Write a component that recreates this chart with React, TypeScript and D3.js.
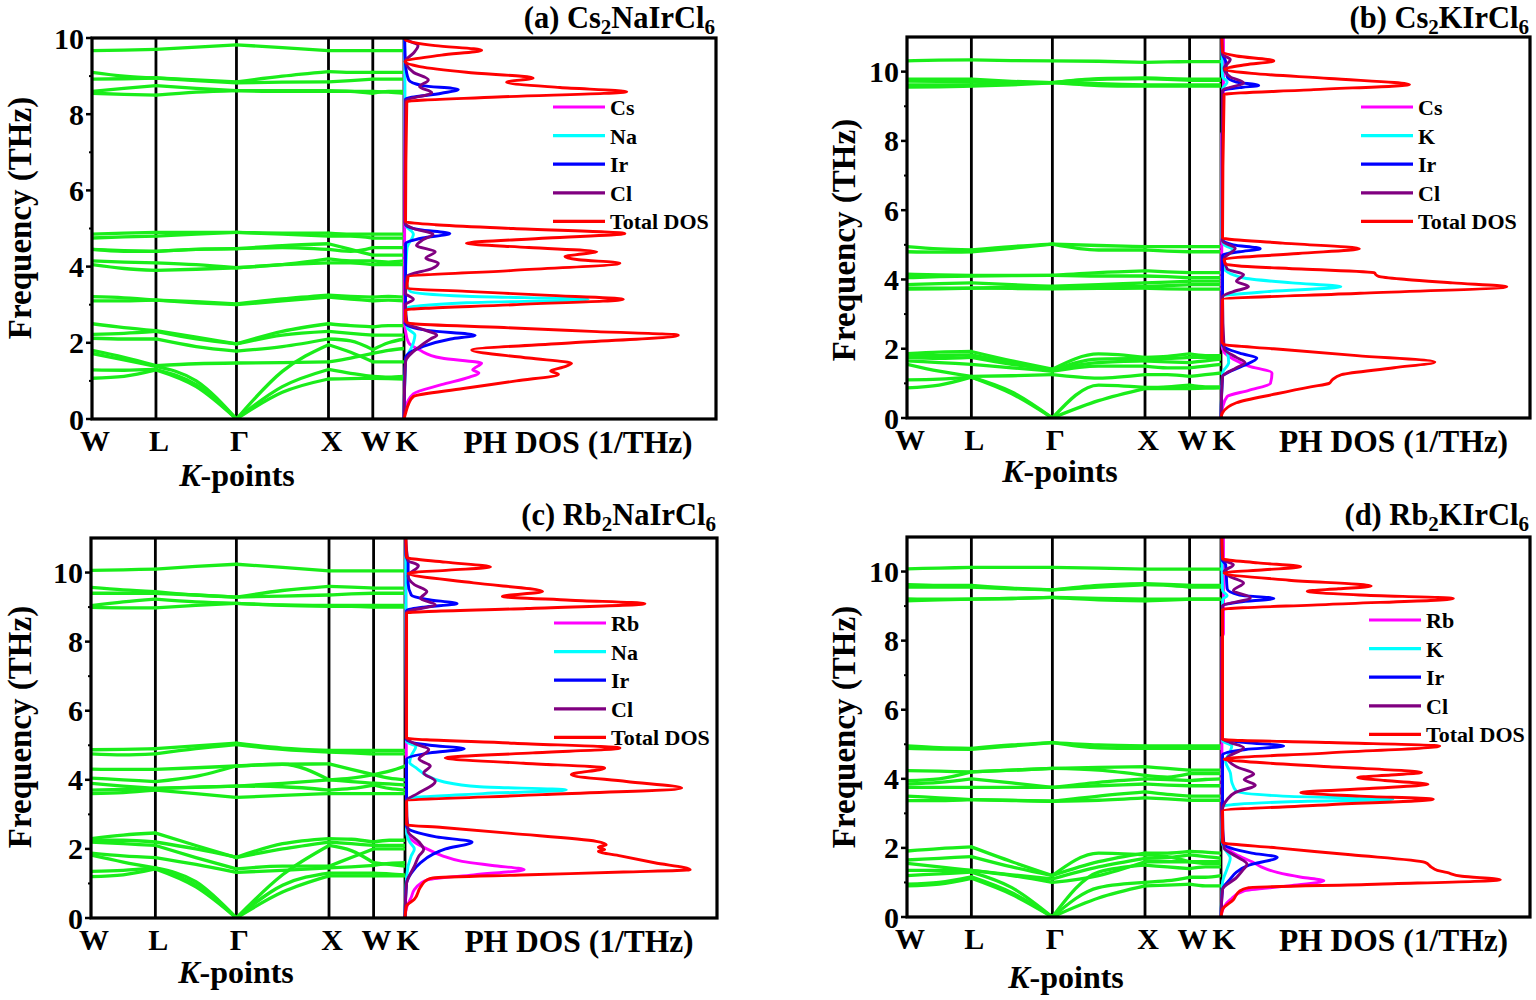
import * as d3 from 'd3';

type Pt = [number, number];

// k-path: high-symmetry nodes (fraction of band width) and their labels
const kNodes = [0, 0.205, 0.463, 0.758, 0.9, 1.0];
const kLabels = ['W', 'L', 'Γ', 'X', 'W', 'K'];
// sample positions along the path: node, mid, node, mid ...
const kSamples = [0, 0.1025, 0.205, 0.334, 0.463, 0.61, 0.758, 0.829, 0.9, 0.95, 1.0];
const majorTicks = [0, 2, 4, 6, 8, 10];
const minorTicks = [1, 3, 5, 7, 9];

// phonon branches, frequency (THz) at each kSample
const bandsA = [
  [1.07, 1.12, 1.29, 0.85, 0, 0.7, 1.05, 1.06, 1.07, 1.06, 1.05],
  [1.29, 1.28, 1.3, 0.9, 0, 0.85, 1.3, 1.2, 1.12, 1.1, 1.12],
  [1.72, 1.55, 1.38, 1.0, 0, 1.25, 1.95, 1.75, 1.5, 1.5, 1.5],
  [1.8, 1.62, 1.4, 1.45, 1.47, 1.48, 1.5, 1.6, 1.72, 1.8, 1.85],
  [2.12, 2.1, 2.1, 1.9, 1.78, 1.9, 2.1, 2.05, 1.82, 2.0, 2.1],
  [2.22, 2.25, 2.3, 2.1, 1.97, 2.2, 2.3, 2.25, 2.2, 2.2, 2.2],
  [2.5, 2.4, 2.32, 2.15, 1.97, 2.3, 2.5, 2.45, 2.42, 2.45, 2.45],
  [3.1, 3.1, 3.12, 3.05, 3.0, 3.1, 3.2, 3.15, 3.1, 3.12, 3.1],
  [3.21, 3.18, 3.12, 3.08, 3.02, 3.15, 3.25, 3.22, 3.2, 3.22, 3.2],
  [4.05, 3.95, 3.9, 3.93, 3.97, 4.05, 4.1, 4.1, 4.05, 4.05, 4.05],
  [4.15, 4.12, 4.1, 4.05, 3.97, 4.05, 4.2, 4.15, 4.15, 4.12, 4.15],
  [4.45, 4.42, 4.4, 4.45, 4.47, 4.55, 4.6, 4.45, 4.3, 4.3, 4.3],
  [4.45, 4.4, 4.4, 4.45, 4.47, 4.5, 4.45, 4.4, 4.5, 4.5, 4.5],
  [4.75, 4.78, 4.8, 4.85, 4.9, 4.85, 4.8, 4.8, 4.75, 4.75, 4.75],
  [4.85, 4.88, 4.9, 4.9, 4.9, 4.88, 4.88, 4.85, 4.85, 4.85, 4.85],
  [8.55, 8.52, 8.5, 8.58, 8.62, 8.6, 8.6, 8.6, 8.6, 8.58, 8.55],
  [8.6, 8.68, 8.75, 8.68, 8.62, 8.62, 8.62, 8.6, 8.55, 8.6, 8.6],
  [8.92, 8.93, 8.95, 8.88, 8.82, 8.84, 8.85, 8.88, 8.92, 8.92, 8.92],
  [9.1, 9.0, 8.95, 8.9, 8.85, 9.0, 9.12, 9.1, 9.1, 9.1, 9.1],
  [9.67, 9.68, 9.7, 9.76, 9.82, 9.75, 9.67, 9.67, 9.67, 9.67, 9.67],
];

const bandsB = [
  [0.87, 0.95, 1.18, 0.7, 0, 0.5, 0.85, 0.85, 0.85, 0.86, 0.87],
  [1.1, 1.12, 1.18, 0.75, 0, 0.95, 0.88, 0.9, 0.95, 0.9, 0.9],
  [1.55, 1.35, 1.2, 1.22, 1.25, 1.15, 1.25, 1.25, 1.2, 1.25, 1.3],
  [1.65, 1.6, 1.55, 1.45, 1.35, 1.5, 1.5, 1.45, 1.45, 1.5, 1.55],
  [1.75, 1.72, 1.75, 1.55, 1.4, 1.6, 1.65, 1.62, 1.6, 1.65, 1.7],
  [1.86, 1.9, 1.92, 1.65, 1.41, 1.85, 1.75, 1.78, 1.85, 1.8, 1.8],
  [1.8, 1.8, 1.82, 1.6, 1.38, 1.7, 1.72, 1.72, 1.75, 1.75, 1.75],
  [3.72, 3.73, 3.75, 3.74, 3.73, 3.74, 3.75, 3.73, 3.72, 3.72, 3.72],
  [3.75, 3.75, 3.75, 3.78, 3.8, 3.8, 3.8, 3.82, 3.85, 3.85, 3.85],
  [3.85, 3.88, 3.9, 3.85, 3.8, 3.85, 3.9, 3.92, 3.95, 3.95, 3.95],
  [4.05, 4.08, 4.1, 4.11, 4.12, 4.1, 4.1, 4.08, 4.05, 4.05, 4.05],
  [4.15, 4.13, 4.12, 4.12, 4.12, 4.2, 4.25, 4.22, 4.2, 4.2, 4.2],
  [4.8, 4.79, 4.8, 4.9, 5.02, 4.85, 4.85, 4.82, 4.8, 4.8, 4.8],
  [4.95, 4.88, 4.85, 4.95, 5.02, 4.98, 4.95, 4.95, 4.95, 4.95, 4.95],
  [9.55, 9.56, 9.58, 9.62, 9.68, 9.6, 9.58, 9.58, 9.58, 9.58, 9.58],
  [9.62, 9.62, 9.62, 9.65, 9.68, 9.65, 9.62, 9.62, 9.62, 9.62, 9.62],
  [9.73, 9.72, 9.7, 9.69, 9.68, 9.78, 9.8, 9.78, 9.75, 9.75, 9.75],
  [9.78, 9.78, 9.78, 9.72, 9.68, 9.8, 9.82, 9.8, 9.78, 9.78, 9.78],
  [10.31, 10.33, 10.34, 10.32, 10.31, 10.3, 10.27, 10.28, 10.29, 10.29, 10.29],
];

const bandsC = [
  [1.2, 1.25, 1.42, 0.9, 0, 0.75, 1.22, 1.22, 1.22, 1.22, 1.22],
  [1.35, 1.38, 1.45, 0.95, 0, 0.95, 1.3, 1.3, 1.3, 1.28, 1.25],
  [1.82, 1.62, 1.45, 1.05, 0, 1.25, 2.1, 1.95, 1.6, 1.55, 1.5],
  [1.88, 1.8, 1.75, 1.55, 1.32, 1.38, 1.45, 1.48, 1.52, 1.58, 1.6],
  [2.2, 2.15, 2.1, 1.75, 1.42, 1.5, 1.5, 1.75, 2.0, 2.0, 2.0],
  [2.3, 2.4, 2.46, 2.1, 1.75, 2.0, 2.2, 2.15, 2.1, 2.1, 2.1],
  [2.25, 2.25, 2.2, 2.0, 1.76, 2.15, 2.3, 2.28, 2.2, 2.25, 2.25],
  [3.6, 3.63, 3.7, 3.6, 3.49, 3.55, 3.6, 3.6, 3.6, 3.6, 3.6],
  [3.7, 3.72, 3.75, 3.78, 3.82, 3.8, 3.7, 3.75, 3.85, 3.75, 3.7],
  [3.9, 3.82, 3.75, 3.79, 3.82, 3.9, 4.0, 3.95, 3.9, 3.88, 3.85],
  [4.05, 4.0, 3.95, 4.1, 4.4, 4.45, 4.0, 4.05, 4.15, 4.05, 4.0],
  [4.31, 4.3, 4.3, 4.35, 4.4, 4.45, 4.46, 4.3, 4.15, 4.25, 4.4],
  [4.75, 4.72, 4.75, 4.9, 5.02, 4.88, 4.8, 4.78, 4.75, 4.75, 4.75],
  [4.87, 4.88, 4.9, 4.98, 5.06, 4.92, 4.85, 4.85, 4.85, 4.85, 4.85],
  [8.99, 8.98, 8.98, 9.05, 9.11, 9.05, 9.02, 9.02, 9.0, 9.0, 9.0],
  [9.04, 9.15, 9.23, 9.15, 9.11, 9.06, 9.05, 9.05, 9.05, 9.05, 9.05],
  [9.4, 9.4, 9.4, 9.35, 9.29, 9.32, 9.35, 9.38, 9.4, 9.4, 9.4],
  [9.57, 9.5, 9.45, 9.35, 9.29, 9.48, 9.6, 9.58, 9.55, 9.55, 9.55],
  [10.06, 10.08, 10.1, 10.18, 10.24, 10.15, 10.05, 10.05, 10.05, 10.05, 10.05],
];

const bandsD = [
  [0.9, 0.95, 1.12, 0.65, 0, 0.55, 0.9, 0.92, 0.95, 0.9, 0.9],
  [0.95, 1.0, 1.16, 0.7, 0, 0.85, 1.0, 1.05, 1.15, 1.15, 1.2],
  [1.2, 1.25, 1.3, 0.85, 0, 1.3, 1.5, 1.45, 1.4, 1.45, 1.45],
  [1.35, 1.35, 1.35, 1.2, 1.0, 1.2, 1.6, 1.6, 1.6, 1.55, 1.55],
  [1.55, 1.45, 1.35, 1.22, 1.1, 1.45, 1.7, 1.72, 1.8, 1.75, 1.7],
  [1.65, 1.7, 1.75, 1.45, 1.2, 1.6, 1.85, 1.85, 1.9, 1.88, 1.85],
  [1.91, 1.98, 2.03, 1.6, 1.2, 1.85, 1.8, 1.75, 1.6, 1.6, 1.6],
  [3.37, 3.37, 3.4, 3.37, 3.35, 3.38, 3.45, 3.42, 3.38, 3.38, 3.38],
  [3.5, 3.45, 3.4, 3.38, 3.35, 3.5, 3.62, 3.55, 3.5, 3.5, 3.5],
  [3.75, 3.75, 3.75, 3.75, 3.75, 3.8, 3.85, 3.82, 3.8, 3.8, 3.8],
  [3.85, 3.9, 4.0, 3.88, 3.75, 3.9, 4.0, 3.98, 3.95, 3.98, 4.0],
  [3.95, 4.0, 4.2, 4.25, 4.3, 4.25, 4.1, 4.05, 4.15, 4.15, 4.15],
  [4.24, 4.22, 4.2, 4.25, 4.3, 4.33, 4.35, 4.3, 4.25, 4.25, 4.25],
  [4.88, 4.86, 4.85, 4.95, 5.05, 4.9, 4.88, 4.88, 4.88, 4.88, 4.88],
  [4.95, 4.9, 4.88, 4.98, 5.05, 4.98, 4.95, 4.95, 4.95, 4.95, 4.95],
  [9.15, 9.18, 9.2, 9.22, 9.25, 9.18, 9.15, 9.17, 9.2, 9.2, 9.2],
  [9.21, 9.2, 9.2, 9.22, 9.25, 9.22, 9.2, 9.2, 9.2, 9.2, 9.2],
  [9.55, 9.55, 9.55, 9.5, 9.47, 9.55, 9.62, 9.6, 9.55, 9.55, 9.55],
  [9.62, 9.6, 9.6, 9.52, 9.47, 9.6, 9.65, 9.63, 9.6, 9.6, 9.6],
  [10.08, 10.1, 10.12, 10.12, 10.12, 10.1, 10.07, 10.07, 10.07, 10.07, 10.07],
];

// phonon DOS: [frequency THz, DOS]
const totalA: Pt[] = [[0, 0], [0.15, 0.05], [0.4, 0.15], [0.59, 0.3], [0.8, 1.9], [1.0, 3.6], [1.17, 4.95], [1.26, 4.7], [1.36, 5.1], [1.46, 5.37], [1.6, 4.0], [1.81, 2.17], [2.0, 5.4], [2.2, 8.79], [2.3, 6.0], [2.4, 3.2], [2.5, 0.3], [2.55, 0.05], [2.86, 0.05], [3.0, 3.5], [3.14, 7.03], [3.25, 4.5], [3.35, 2.0], [3.43, 0.1], [3.73, 0.13], [3.9, 3.5], [4.09, 6.92], [4.18, 5.6], [4.26, 5.16], [4.33, 5.7], [4.39, 6.18], [4.5, 4.0], [4.61, 2.0], [4.75, 4.6], [4.87, 7.08], [5.0, 3.5], [5.1, 1.0], [5.18, 0.05], [8.33, 0.09], [8.45, 3.0], [8.59, 7.14], [8.7, 5.0], [8.84, 3.29], [8.95, 4.14], [9.1, 2.0], [9.25, 0.5], [9.38, 0.03], [9.55, 1.2], [9.68, 2.49], [9.8, 1.0], [9.95, 0.05], [10, 0.02]];
const csA: Pt[] = [[0, 0], [0.3, 0.05], [0.66, 0.3], [0.9, 1.2], [1.1, 2.1], [1.21, 2.4], [1.29, 2.2], [1.38, 2.35], [1.46, 2.49], [1.6, 1.2], [1.81, 0.5], [2.0, 0.15], [2.3, 0.05], [2.6, 0.02], [10, 0.02]];
const naA: Pt[] = [[0, 0], [1.5, 0.05], [2.0, 0.3], [2.2, 0.35], [2.4, 0.1], [2.9, 0.05], [3.05, 2.0], [3.14, 5.9], [3.22, 2.0], [3.35, 0.2], [3.7, 0.05], [4.5, 0.1], [4.85, 0.3], [5.1, 0.05], [10, 0.02]];
const irA: Pt[] = [[0, 0], [1.6, 0.05], [1.9, 0.6], [2.1, 1.5], [2.2, 2.28], [2.32, 0.8], [2.5, 0.05], [4.6, 0.05], [4.75, 0.6], [4.87, 1.47], [4.97, 0.5], [5.1, 0.05], [8.4, 0.05], [8.55, 1.2], [8.65, 1.74], [8.75, 0.6], [8.9, 0.15], [9.3, 0.05], [10, 0.02]];
const clA: Pt[] = [[0, 0], [1.5, 0.05], [1.9, 0.5], [2.1, 0.85], [2.2, 1.05], [2.35, 0.6], [2.5, 0.1], [3.0, 0.05], [3.14, 0.3], [3.3, 0.05], [3.75, 0.1], [3.95, 0.9], [4.09, 1.1], [4.22, 0.7], [4.39, 1.0], [4.55, 0.4], [4.7, 0.6], [4.85, 0.93], [5.0, 0.3], [5.15, 0.03], [8.35, 0.05], [8.57, 0.89], [8.72, 0.5], [8.9, 0.78], [9.1, 0.3], [9.4, 0.05], [9.6, 0.3], [9.8, 0.45], [9.95, 0.1], [10, 0.05]];

const totalB: Pt[] = [[0, 0], [0.15, 0.05], [0.44, 0.5], [0.7, 1.8], [0.9, 2.9], [1.0, 3.5], [1.1, 3.6], [1.25, 3.9], [1.45, 5.6], [1.62, 6.92], [1.8, 4.4], [2.0, 1.7], [2.12, 0.1], [2.2, 0.03], [3.42, 0.05], [3.6, 4.5], [3.79, 9.25], [3.9, 7.5], [4.0, 6.0], [4.09, 5.1], [4.15, 5.0], [4.19, 4.97], [4.3, 2.6], [4.39, 0.6], [4.45, 0.15], [4.58, 0.1], [4.75, 2.5], [4.89, 4.48], [5.05, 2.0], [5.2, 0.05], [9.34, 0.1], [9.48, 3.0], [9.63, 6.1], [9.8, 3.5], [9.95, 1.0], [10.07, 0.13], [10.2, 0.8], [10.31, 1.71], [10.45, 0.5], [10.57, 0.05], [11, 0.03]];
const csB: Pt[] = [[0, 0], [0.3, 0.05], [0.62, 0.2], [0.8, 0.9], [1.0, 1.6], [1.3, 1.65], [1.5, 0.9], [1.7, 0.4], [1.9, 0.1], [2.1, 0.03], [8.2, 0.02], [8.3, 0.08], [11, 0.08]];
const kB: Pt[] = [[0, 0], [1.3, 0.05], [1.6, 0.25], [1.9, 0.2], [2.1, 0.05], [3.5, 0.05], [3.65, 1.5], [3.79, 3.88], [3.9, 2.3], [4.05, 0.7], [4.33, 0.1], [4.7, 0.15], [4.85, 0.4], [5.0, 0.1], [5.2, 0.03], [9.5, 0.05], [9.7, 0.2], [9.85, 0.05], [11, 0.02]];
const irB: Pt[] = [[0, 0], [1.2, 0.05], [1.3, 0.2], [1.5, 0.7], [1.73, 1.16], [1.85, 0.7], [2.0, 0.2], [2.1, 0.05], [4.7, 0.05], [4.8, 0.6], [4.89, 1.27], [5.0, 0.4], [5.15, 0.05], [9.45, 0.05], [9.55, 0.7], [9.6, 1.22], [9.7, 0.5], [9.85, 0.2], [10.3, 0.15], [10.5, 0.05], [11, 0.02]];
const clB: Pt[] = [[0, 0], [1.2, 0.05], [1.45, 0.5], [1.6, 0.78], [1.75, 0.5], [2.0, 0.1], [3.5, 0.05], [3.65, 0.4], [3.79, 0.89], [3.95, 0.5], [4.14, 0.73], [4.3, 0.2], [4.6, 0.1], [4.9, 0.46], [5.1, 0.05], [9.45, 0.05], [9.68, 0.73], [9.85, 0.3], [10.1, 0.1], [10.35, 0.3], [10.5, 0.05], [11, 0.02]];

const totalC: Pt[] = [[0, 0], [0.35, 0.05], [0.54, 0.3], [0.9, 0.5], [1.1, 0.7], [1.16, 0.9], [1.25, 4.0], [1.33, 7.0], [1.4, 9.14], [1.6, 8.0], [1.8, 6.9], [1.93, 6.2], [1.98, 6.4], [2.05, 6.2], [2.12, 6.45], [2.22, 6.13], [2.45, 3.4], [2.62, 1.2], [2.7, 0.05], [3.38, 0.05], [3.57, 4.4], [3.76, 8.87], [3.95, 7.1], [4.15, 5.33], [4.34, 6.4], [4.48, 3.8], [4.63, 1.29], [4.78, 4.1], [4.92, 6.89], [5.06, 3.5], [5.21, 0.05], [8.83, 0.05], [8.96, 3.9], [9.1, 7.69], [9.2, 5.3], [9.31, 3.12], [9.45, 4.41], [9.7, 2.2], [9.98, 0.1], [10.07, 1.4], [10.16, 2.74], [10.3, 1.3], [10.44, 0.05], [11, 0.03]];
const rbC: Pt[] = [[0, 0], [0.3, 0.05], [0.6, 0.2], [0.82, 0.3], [1.0, 0.5], [1.11, 0.75], [1.25, 2.2], [1.4, 3.82], [1.52, 2.8], [1.64, 1.83], [1.8, 1.2], [1.98, 0.75], [2.2, 0.3], [2.46, 0.05], [11, 0.02]];
const naC: Pt[] = [[0, 0], [1.2, 0.05], [1.8, 0.2], [2.0, 0.3], [2.2, 0.15], [2.5, 0.05], [3.45, 0.05], [3.6, 2.5], [3.71, 5.17], [3.8, 2.4], [3.95, 1.2], [4.1, 0.75], [4.35, 0.35], [4.5, 0.15], [4.7, 0.2], [4.97, 0.35], [5.1, 0.05], [11, 0.02]];
const irC: Pt[] = [[0, 0], [1.0, 0.05], [1.3, 0.2], [1.6, 0.5], [1.85, 0.9], [2.0, 1.3], [2.2, 2.15], [2.35, 1.0], [2.5, 0.3], [2.65, 0.05], [4.6, 0.05], [4.78, 0.8], [4.9, 1.9], [5.0, 0.8], [5.15, 0.05], [8.9, 0.05], [9.0, 0.6], [9.1, 1.67], [9.22, 0.7], [9.35, 0.2], [9.7, 0.1], [10.3, 0.1], [10.5, 0.03], [11, 0.02]];
const clC: Pt[] = [[0, 0], [1.0, 0.05], [1.5, 0.3], [1.8, 0.45], [1.98, 0.6], [2.2, 0.45], [2.5, 0.1], [3.4, 0.05], [3.6, 0.4], [3.96, 0.97], [4.2, 0.6], [4.4, 0.81], [4.6, 0.45], [4.88, 0.76], [5.05, 0.3], [5.2, 0.05], [8.85, 0.05], [9.07, 0.97], [9.25, 0.5], [9.45, 0.7], [9.65, 0.3], [9.9, 0.1], [10.2, 0.43], [10.35, 0.1], [11, 0.02]];

const totalD: Pt[] = [[0, 0], [0.22, 0.05], [0.5, 0.4], [0.75, 0.6], [0.85, 0.9], [0.95, 5.0], [1.08, 9.04], [1.18, 7.8], [1.29, 7.3], [1.35, 7.0], [1.45, 6.8], [1.58, 6.6], [1.8, 4.2], [2.0, 1.8], [2.16, 0.05], [3.07, 0.05], [3.25, 3.5], [3.41, 6.87], [3.5, 4.5], [3.6, 2.58], [3.72, 4.8], [3.84, 6.7], [3.95, 5.3], [4.04, 4.42], [4.11, 5.5], [4.18, 6.49], [4.35, 3.5], [4.5, 0.8], [4.57, 0.1], [4.75, 3.5], [4.95, 7.08], [5.05, 3.5], [5.14, 0.05], [8.9, 0.05], [9.05, 3.5], [9.22, 7.52], [9.32, 4.5], [9.43, 2.79], [9.5, 3.8], [9.58, 4.86], [9.75, 2.2], [9.96, 0.1], [10.05, 1.4], [10.14, 2.58], [10.25, 1.2], [10.37, 0.05], [11, 0.03]];
const rbD: Pt[] = [[0, 0], [0.3, 0.1], [0.5, 0.3], [0.75, 0.73], [0.9, 2.2], [1.05, 3.33], [1.15, 2.6], [1.29, 1.82], [1.45, 1.3], [1.58, 1.05], [1.8, 0.5], [2.1, 0.1], [2.3, 0.03], [8.1, 0.03], [8.2, 0.08], [11, 0.08]];
const kD: Pt[] = [[0, 0], [1.0, 0.05], [1.4, 0.2], [1.7, 0.3], [2.0, 0.1], [2.2, 0.03], [3.2, 0.05], [3.33, 2.0], [3.41, 5.56], [3.5, 2.0], [3.64, 0.5], [3.9, 0.35], [4.18, 0.3], [4.5, 0.15], [4.8, 0.3], [4.95, 0.35], [5.1, 0.05], [9.2, 0.05], [9.3, 0.2], [9.45, 0.05], [11, 0.02]];
const irD: Pt[] = [[0, 0], [0.8, 0.05], [1.1, 0.3], [1.3, 0.5], [1.5, 0.9], [1.73, 1.82], [1.85, 1.0], [2.0, 0.3], [2.15, 0.05], [4.7, 0.05], [4.85, 0.8], [4.95, 2.03], [5.05, 0.8], [5.15, 0.05], [9.0, 0.05], [9.12, 0.6], [9.22, 1.71], [9.32, 0.6], [9.5, 0.2], [10.2, 0.15], [10.35, 0.03], [11, 0.02]];
const clD: Pt[] = [[0, 0], [0.8, 0.05], [1.14, 0.5], [1.35, 0.7], [1.53, 0.84], [1.75, 0.5], [2.0, 0.1], [3.1, 0.05], [3.4, 0.2], [3.6, 0.45], [3.82, 1.11], [3.98, 0.75], [4.14, 1.06], [4.35, 0.5], [4.6, 0.2], [4.9, 0.73], [5.05, 0.3], [5.15, 0.05], [9.0, 0.05], [9.24, 0.95], [9.45, 0.4], [9.67, 0.73], [9.85, 0.3], [10.0, 0.1], [10.2, 0.4], [10.35, 0.05], [11, 0.02]];

const dosColors = ['#ff00ff', '#00ffff', '#0000ff', '#800080', '#ff0000'];
const legendA = ['Cs', 'Na', 'Ir', 'Cl', 'Total DOS'];
const legendB = ['Cs', 'K', 'Ir', 'Cl', 'Total DOS'];
const legendC = ['Rb', 'Na', 'Ir', 'Cl', 'Total DOS'];
const legendD = ['Rb', 'K', 'Ir', 'Cl', 'Total DOS'];

const FONT = "'Liberation Serif', 'Times New Roman', serif";
const GREEN = '#1aed1a';

interface PanelCfg {
  id: string;
  left: number; right: number; top: number; bottom: number; kx: number;
  yMax: number;
  bands: number[][];
  dos: Pt[][];
  legend: string[];
  legendX: number; legendY: number;
  title: [string, string, string, string]; // prefix, sub, middle, sub
  titleY: number;
  yTitleX: number; yTitleY: number;
  kpX: number; kpY: number;
}

const panels: PanelCfg[] = [
  { id: 'a', left: 92, right: 716, top: 38, bottom: 419, kx: 404, yMax: 10, bands: bandsA,
    dos: [csA, naA, irA, clA, totalA], legend: legendA, legendX: 553, legendY: 107,
    title: ['(a) Cs', '2', 'NaIrCl', '6'], titleY: 28, yTitleX: 31, yTitleY: 218, kpX: 237, kpY: 486 },
  { id: 'b', left: 907, right: 1530, top: 37, bottom: 418, kx: 1221, yMax: 11, bands: bandsB,
    dos: [csB, kB, irB, clB, totalB], legend: legendB, legendX: 1361, legendY: 107,
    title: ['(b) Cs', '2', 'KIrCl', '6'], titleY: 28, yTitleX: 855, yTitleY: 240, kpX: 1060, kpY: 482 },
  { id: 'c', left: 91, right: 717, top: 538, bottom: 918, kx: 405, yMax: 11, bands: bandsC,
    dos: [rbC, naC, irC, clC, totalC], legend: legendC, legendX: 554, legendY: 623,
    title: ['(c) Rb', '2', 'NaIrCl', '6'], titleY: 525, yTitleX: 31, yTitleY: 727, kpX: 236, kpY: 983 },
  { id: 'd', left: 907, right: 1530, top: 537, bottom: 917, kx: 1221, yMax: 11, bands: bandsD,
    dos: [rbD, kD, irD, clD, totalD], legend: legendD, legendX: 1369, legendY: 620,
    title: ['(d) Rb', '2', 'KIrCl', '6'], titleY: 525, yTitleX: 855, yTitleY: 727, kpX: 1066, kpY: 988 },
];

function Panel({ p }: { p: PanelCfg }) {
  const y = d3.scaleLinear().domain([0, p.yMax]).range([p.bottom, p.top]);
  const xk = d3.scaleLinear().domain([0, 1]).range([p.left, p.kx]);
  const xd = d3.scaleLinear().domain([0, 10]).range([p.kx, p.right]);
  const bandLine = d3.line<Pt>().x(d => xk(d[0])).y(d => y(d[1])).curve(d3.curveMonotoneX);
  const dosLine = d3.line<Pt>().x(d => xd(d[1])).y(d => y(d[0])).curve(d3.curveMonotoneY);
  const minors = minorTicks.filter(t => t < p.yMax);

  // each branch drawn segment by segment so the kinks sit on the symmetry points
  const segments: string[] = [];
  p.bands.forEach(b => {
    for (let s = 0; s < 5; s++) {
      const pts: Pt[] = [0, 1, 2].map(j => [kSamples[2 * s + j], b[2 * s + j]] as Pt);
      segments.push(bandLine(pts) || '');
    }
  });

  return (
    <g fontFamily={FONT} fontWeight="bold">
      <defs>
        <clipPath id={`band-${p.id}`}>
          <rect x={p.left} y={p.top} width={p.kx - p.left} height={p.bottom - p.top} />
        </clipPath>
        <clipPath id={`dos-${p.id}`}>
          <rect x={p.kx - 2} y={p.top} width={p.right - p.kx + 2} height={p.bottom - p.top} />
        </clipPath>
      </defs>

      {kNodes.slice(1).map((k, i) => (
        <line key={i} x1={xk(k)} x2={xk(k)} y1={p.top} y2={p.bottom} stroke="#000" strokeWidth={2.8} />
      ))}

      <g clipPath={`url(#band-${p.id})`}>
        {segments.map((d, i) => (
          <path key={i} d={d} fill="none" stroke={GREEN} strokeWidth={3.3} strokeLinecap="round" />
        ))}
      </g>

      <g clipPath={`url(#dos-${p.id})`}>
        {p.dos.map((data, i) => (
          <path key={i} d={dosLine(data) || ''} fill="none" stroke={dosColors[i]} strokeWidth={2.9} strokeLinejoin="round" />
        ))}
      </g>

      <rect x={p.left} y={p.top} width={p.right - p.left} height={p.bottom - p.top} fill="none" stroke="#000" strokeWidth={3.2} />

      {majorTicks.map(t => (
        <g key={t}>
          <line x1={p.left - 6} x2={p.left} y1={y(t)} y2={y(t)} stroke="#000" strokeWidth={2.5} />
          <text x={p.left - 8} y={y(t)} dy="0.35em" textAnchor="end" fontSize={30}>{t}</text>
        </g>
      ))}
      {minors.map(t => (
        <line key={t} x1={p.left - 3} x2={p.left} y1={y(t)} y2={y(t)} stroke="#000" strokeWidth={2} />
      ))}

      {kNodes.map((k, i) => (
        <text key={i} x={xk(k) + 3} y={p.bottom + 32} textAnchor="middle" fontSize={30}>{kLabels[i]}</text>
      ))}
      <text x={p.kpX} y={p.kpY} textAnchor="middle" fontSize={32}>
        <tspan fontStyle="italic">K</tspan>-points
      </text>
      <text x={(p.kx + p.right) / 2 + 18} y={p.bottom + 34} textAnchor="middle" fontSize={31.5}>PH DOS (1/THz)</text>

      <text transform={`translate(${p.yTitleX},${p.yTitleY}) rotate(-90)`} textAnchor="middle" fontSize={33}>Frequency (THz)</text>

      <text x={p.right - 1} y={p.titleY} textAnchor="end" fontSize={30.5}>
        {p.title[0]}
        <tspan fontSize={21} dy={6}>{p.title[1]}</tspan>
        <tspan dy={-6}>{p.title[2]}</tspan>
        <tspan fontSize={21} dy={6}>{p.title[3]}</tspan>
      </text>

      {p.legend.map((name, i) => {
        const ly = p.legendY + i * 28.6;
        return (
          <g key={name}>
            <line x1={p.legendX} x2={p.legendX + 52} y1={ly} y2={ly} stroke={dosColors[i]} strokeWidth={3.2} />
            <text x={p.legendX + 57} y={ly + 8} fontSize={22}>{name}</text>
          </g>
        );
      })}
    </g>
  );
}

export default function App() {
  return (
    <svg width={1536} height={1000} style={{ position: 'absolute', left: 0, top: 0, background: '#fff' }}>
      {panels.map(p => <Panel key={p.id} p={p} />)}
    </svg>
  );
}
